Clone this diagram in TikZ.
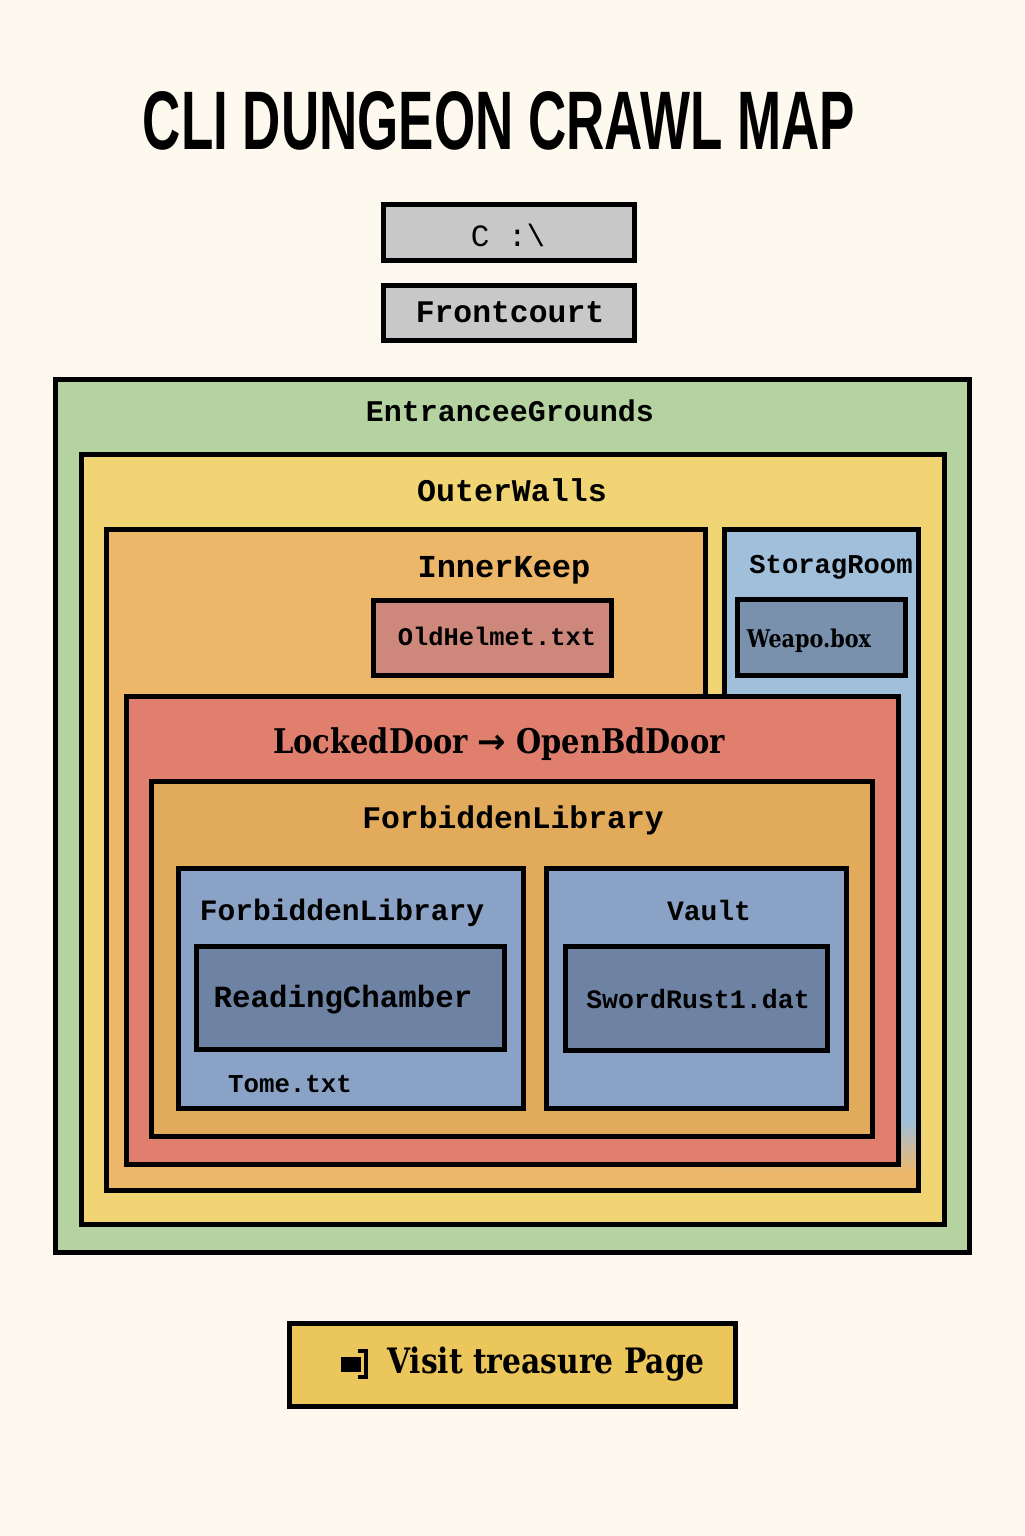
\documentclass[tikz,border=0pt]{standalone}
\usepackage{fontspec}
\setmonofont{Liberation Mono}
\newfontfamily\titlefont{Liberation Sans}
\newfontfamily\slabfont[FakeStretch=0.85]{DejaVu Serif}
\newfontfamily\arrowfont{DejaVu Sans}

\definecolor{paper}{HTML}{FDF9EE}
\definecolor{groundsfill}{HTML}{B4D3A0}
\definecolor{wallsfill}{HTML}{F1D474}
\definecolor{keepfill}{HTML}{EDB76A}
\definecolor{storefill}{HTML}{A0BFDA}
\definecolor{boxfill}{HTML}{7A91AE}
\definecolor{helmetfill}{HTML}{CD877B}
\definecolor{doorfill}{HTML}{E07F6D}
\definecolor{libfill}{HTML}{E2AA5B}
\definecolor{wingfill}{HTML}{8AA2C5}
\definecolor{chamberfill}{HTML}{6E83A3}
\definecolor{drivefill}{HTML}{C8C8C8}
\definecolor{buttonfill}{HTML}{EBC65B}

\tikzset{
  room/.style={draw=black, line width=2.5pt, inner sep=0pt},
  tag/.style={font=\ttfamily\bfseries\fontsize{#1}{#1}\selectfont, anchor=base, inner sep=0pt},
  slab/.style={font=\slabfont\bfseries\fontsize{#1}{#1}\selectfont, anchor=base, inner sep=0pt},
}

\begin{document}
\begin{tikzpicture}[x=0.5pt, y=-0.5pt]
  \fill[paper] (0,0) rectangle (1024,1536);
  \useasboundingbox (0,0) rectangle (1024,1536);

  % title
  \node[anchor=south, inner sep=0pt] (title) at (499,151)
    {\resizebox{356pt}{29pt}{\titlefont\bfseries CLI DUNGEON CRAWL MAP}};

  % path boxes
  \node[room, fill=drivefill, minimum width=125.5pt, minimum height=28pt] (drive) at (509,232.5) {};
  \node[tag=15.5, font=\ttfamily\fontsize{15.5}{15.5}\selectfont] (drivetxt) at (508,246) {C :\textbackslash};
  \node[room, fill=drivefill, minimum width=125.5pt, minimum height=27.5pt] (front) at (509,313) {};
  \node[tag=15.7] (fronttxt) at (510,322) {Frontcourt};

  % grounds and walls
  \node[room, fill=groundsfill, minimum width=457pt, minimum height=436.5pt] (grounds) at (512.5,816) {};
  \node[tag=15] (groundstxt) at (510,421) {EntranceeGrounds};
  \node[room, fill=wallsfill, minimum width=431.5pt, minimum height=385pt] (walls) at (513,839.5) {};
  \node[tag=15.8] (wallstxt) at (512,501) {OuterWalls};

  % inner keep with the storage room cut in
  \fill[keepfill] (104,527) rectangle (921,1193);
  \fill[wallsfill] (708,522) rectangle (722,697);
  \fill[storefill] (722,527) rectangle (921,1120);
  \shade[top color=storefill, bottom color=keepfill] (722,1120) rectangle (921,1172);
  \draw[line width=2.5pt] (705.5,697) -- (705.5,529.5) -- (106.5,529.5) -- (106.5,1190.5)
    -- (918.5,1190.5) -- (918.5,529.5) -- (724.5,529.5) -- (724.5,697);
  \node[tag=16] (keeptxt) at (504,577) {InnerKeep};
  \node[room, fill=helmetfill, minimum width=119pt, minimum height=37.5pt] (helmet) at (492.5,638) {};
  \node[tag=12.7] (helmettxt) at (497,645) {OldHelmet.txt};
  \node[tag=13.6] (storetxt) at (831,573) {StoragRoom};
  \node[room, fill=boxfill, minimum width=84pt, minimum height=38pt] (weapon) at (821.5,637.5) {};
  \node[slab=12.2] (weapontxt) at (809,647) {Weapo.box};

  % locked door
  \node[room, fill=doorfill, minimum width=386pt, minimum height=234pt] (door) at (512.5,930.5) {};
  \node[slab=17] (doortxt) at (499,753) {LockedDoor {\arrowfont →} OpenBdDoor};

  % library
  \node[room, fill=libfill, minimum width=360.5pt, minimum height=177.5pt] (library) at (512,959) {};
  \node[tag=15.7] (librarytxt) at (513,828) {ForbiddenLibrary};
  \node[room, fill=wingfill, minimum width=172.5pt, minimum height=120pt] (wing) at (351,988.5) {};
  \node[tag=14.8] (wingtxt) at (342,920) {ForbiddenLibrary};
  \node[room, fill=chamberfill, minimum width=154pt, minimum height=51.5pt] (chamber) at (350.5,998) {};
  \node[tag=15.4] (chambertxt) at (343,1007) {ReadingChamber};
  \node[tag=12.9] (tometxt) at (290,1092) {Tome.txt};
  \node[room, fill=wingfill, minimum width=150pt, minimum height=120pt] (vault) at (696.5,988.5) {};
  \node[tag=14] (vaulttxt) at (709,920) {Vault};
  \node[room, fill=chamberfill, minimum width=131pt, minimum height=52pt] (sword) at (696.5,998.5) {};
  \node[tag=13.3] (swordtxt) at (698,1008) {SwordRust1.dat};

  % button
  \node[room, fill=buttonfill, minimum width=223pt, minimum height=41.5pt] (visit) at (512.5,1365) {};
  \node[slab=17.5] (visittxt) at (546,1373) {Visit treasure Page};
  \fill (341,1357) rectangle (361,1372);
  \draw[line width=2pt] (358,1351) -- (366,1351) -- (366,1377) -- (358,1377);
\end{tikzpicture}
\end{document}
